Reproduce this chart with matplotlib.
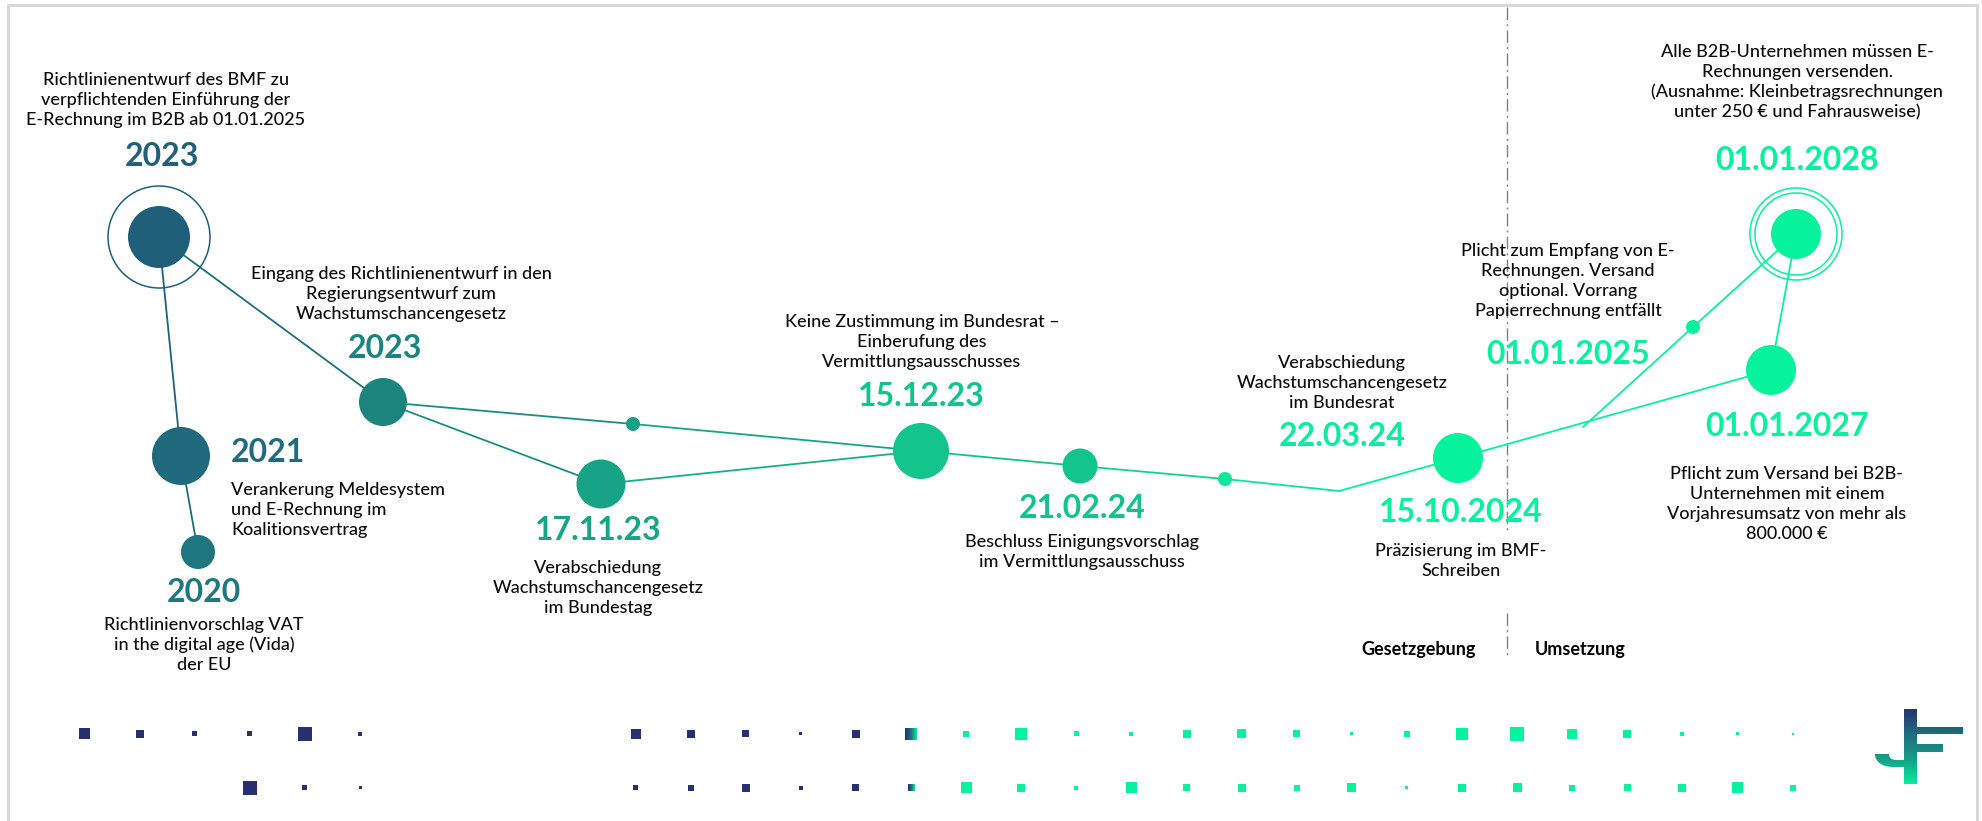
import numpy as np
import matplotlib.pyplot as plt
from matplotlib.patches import Circle, Rectangle, PathPatch
from matplotlib.path import Path
from matplotlib.colors import LinearSegmentedColormap

plt.rcParams['font.family'] = ['Lato', 'DejaVu Sans']

# --- Inhalte der Zeitleiste ---
dates = ['2023', '2023', '2021', '2020', '17.11.23', '15.12.23', '21.02.24',
         '22.03.24', '15.10.2024', '01.01.2025', '01.01.2027', '01.01.2028']
texts = [
    'Richtlinienentwurf des BMF zu\nverpflichtenden Einführung der\nE-Rechnung im B2B ab 01.01.2025',
    'Eingang des Richtlinienentwurf in den\nRegierungsentwurf zum\nWachstumschancengesetz',
    'Verankerung Meldesystem\nund E-Rechnung im\nKoalitionsvertrag',
    'Richtlinienvorschlag VAT\nin the digital age (Vida)\nder EU',
    'Verabschiedung\nWachstumschancengesetz\nim Bundestag',
    'Keine Zustimmung im Bundesrat –\nEinberufung des\nVermittlungsausschusses',
    'Beschluss Einigungsvorschlag\nim Vermittlungsausschuss',
    'Verabschiedung\nWachstumschancengesetz\nim Bundesrat',
    'Präzisierung im BMF-\nSchreiben',
    'Plicht zum Empfang von E-\nRechnungen. Versand\noptional. Vorrang\nPapierrechnung entfällt',
    'Pflicht zum Versand bei B2B-\nUnternehmen mit einem\nVorjahresumsatz von mehr als\n800.000 €',
    'Alle B2B-Unternehmen müssen E-\nRechnungen versenden.\n(Ausnahme: Kleinbetragsrechnungen\nunter 250 € und Fahrausweise)',
]
phases = ['Gesetzgebung', 'Umsetzung']

# --- Layout (Pixelraster 1982 x 821) ---
date_color = ['#22607A', '#1C847E', '#206B7D', '#1F7880', '#17A487', '#12C48C',
              '#12C48C', '#0AED9B', '#06F29C', '#06F29C', '#06F29C', '#06F29C']
date_xy = [(162, 157), (385, 348), (231, 453), (204, 593), (598, 531), (921, 397),
           (1082, 508), (1342, 436), (1461, 513), (1568, 355), (1787, 427), (1797, 161)]
date_ha = ['center', 'center', 'left', 'center', 'center', 'center',
           'center', 'center', 'center', 'center', 'center', 'center']
text_xy = [(166, 100), (401, 294), (231, 510), (204, 645), (598, 588), (922, 342),
           (1082, 552), (1342, 383), (1461, 561), (1568, 281), (1787, 504), (1797, 82)]

# Knoten: x, y, Radius, Farbe
node_x = [159, 181, 198, 383, 633, 601, 921, 1080, 1225, 1339, 1458, 1693, 1771, 1796, 1583]
node_y = [237, 456, 552, 402, 424, 484, 451, 466, 479, 491, 458, 327, 370, 234, 427]
node_r = [31, 29, 17, 24, 7, 24.5, 28, 17.5, 7, 0, 25, 7, 25, 25, 0]
node_c = ['#205F7A', '#1F6A7C', '#1E777F', '#1C837D', '#17A088', '#17A386', '#13C48D',
          '#13C48D', '#0BE79A', '#06F29C', '#06F29C', '#06F29C', '#06F29C', '#06F29C', '#06F29C']
edges = [(0, 1), (1, 2), (0, 3), (3, 4), (4, 6), (3, 5), (5, 6), (6, 7), (7, 8),
         (8, 9), (9, 10), (10, 12), (12, 13), (13, 11), (11, 14)]
edge_c = ['#20617B', '#1F6C7D', '#1E6E7C', '#1A8E80', '#16A585', '#1A8E80', '#15B088',
          '#12C48C', '#10D391', '#0AE798', '#06F29C', '#06F29C', '#06F29C', '#06F29C', '#06F29C']

# Dekorative Quadrate unten
step = 55.1
row1_k = [0, 1, 2, 3, 4, 5] + list(range(10, 32))
row1_s = [11, 8, 5, 5, 14, 4, 10, 8, 7, 3, 8, 12, 6, 12, 5, 4, 8, 9, 7, 3, 6, 12, 14, 10, 8, 4, 3, 2]
row2_k = [3, 4, 5] + list(range(10, 32))
row2_s = [14, 5, 3, 5, 6, 8, 4, 7, 7, 11, 8, 4, 11, 7, 8, 6, 9, 3, 8, 9, 6, 7, 8, 11, 6]

NAVY = '#283070'
GREEN = '#06F29C'

W, H = 1982, 821
fig = plt.figure(figsize=(W / 100, H / 100), dpi=100)
ax = fig.add_axes([0, 0, 1, 1])
ax.axis('off')

# Rahmen
ax.plot([7.5, 7.5, 1977, 1977], [H, 5.5, 5.5, H], color='#D9D9D9', lw=2.2, zorder=0)

# Trennlinie Gesetzgebung / Umsetzung
for y0, y1 in [(7, 530), (613, 658)]:
    ax.plot([1507, 1507], [y0, y1], color='#808080', lw=1,
            linestyle=(0, (9, 3, 1.5, 3)), zorder=0.5)

# Verbindungen
for (a, b), c in zip(edges, edge_c):
    ax.plot([node_x[a], node_x[b]], [node_y[a], node_y[b]], color=c, lw=1.3,
            solid_capstyle='round', zorder=1)

# Knoten
for x, y, r, c in zip(node_x, node_y, node_r, node_c):
    if r > 0:
        ax.add_patch(Circle((x, y), r, facecolor=c, edgecolor='none', zorder=2))
ax.add_patch(Circle((node_x[0], node_y[0]), 51, facecolor='none', edgecolor='#1F5F7A', lw=1.1, zorder=2))
for rr in (41, 46):
    ax.add_patch(Circle((node_x[13], node_y[13]), rr, facecolor='none', edgecolor=GREEN, lw=1.1, zorder=2))

# Beschriftungen
for d, t, c, (dx, dy), ha, (tx, ty) in zip(dates, texts, date_color, date_xy, date_ha, text_xy):
    ax.text(dx, dy, d, color=c, fontsize=23, fontweight='bold', ha=ha, va='center', zorder=3)
    ax.text(tx, ty, t, color='#0D0D0D', fontsize=13, fontweight=500, ha=ha, va='center',
            multialignment=ha, linespacing=1.3, zorder=3)

ax.text(1419, 650, phases[0], fontsize=13, fontweight='bold', ha='center', va='center')
ax.text(1580, 650, phases[1], fontsize=13, fontweight='bold', ha='center', va='center')

# Quadrate
grad = np.linspace(0, 1, 50).reshape(1, -1)
cm_sq = LinearSegmentedColormap.from_list('sq', [NAVY, '#1C6E7E', GREEN])
for yc, ks, ss in [(734, row1_k, row1_s), (788, row2_k, row2_s)]:
    for k, s in zip(ks, ss):
        xc = 84.5 + k * step
        if k == 15:
            ax.imshow(grad, cmap=cm_sq, extent=(xc - s / 2, xc + s / 2, yc + s / 2, yc - s / 2),
                      aspect='auto', zorder=2)
        else:
            ax.add_patch(Rectangle((xc - s / 2, yc - s / 2), s, s,
                                   facecolor=NAVY if k < 15 else GREEN, edgecolor='none'))

# Logo
cm_logo = LinearSegmentedColormap.from_list('logo', [NAVY, '#1F6B7C', '#16A088', GREEN])
vgrad = np.linspace(0, 1, 100).reshape(-1, 1)
pieces = [
    Rectangle((1904, 709), 13, 75),
    Rectangle((1917, 727), 46, 7.5),
    Rectangle((1917, 744), 26, 8),
    PathPatch(Path([(1875, 754), (1889, 754), (1889, 759), (1893, 760), (1897, 760),
                    (1904, 760), (1904, 767), (1893, 767), (1880, 767), (1875, 760), (1875, 754)],
                   [Path.MOVETO, Path.LINETO, Path.CURVE4, Path.CURVE4, Path.CURVE4,
                    Path.LINETO, Path.LINETO, Path.LINETO, Path.CURVE4, Path.CURVE4, Path.CURVE4])),
]
for p in pieces:
    p.set_facecolor('none')
    p.set_edgecolor('none')
    ax.add_patch(p)
    im = ax.imshow(vgrad, cmap=cm_logo, extent=(1870, 1970, 786, 707), aspect='auto', zorder=2)
    im.set_clip_path(p)

ax.set_xlim(0, W)
ax.set_ylim(H, 0)
fig.savefig('out.png', dpi=100, facecolor='white')
